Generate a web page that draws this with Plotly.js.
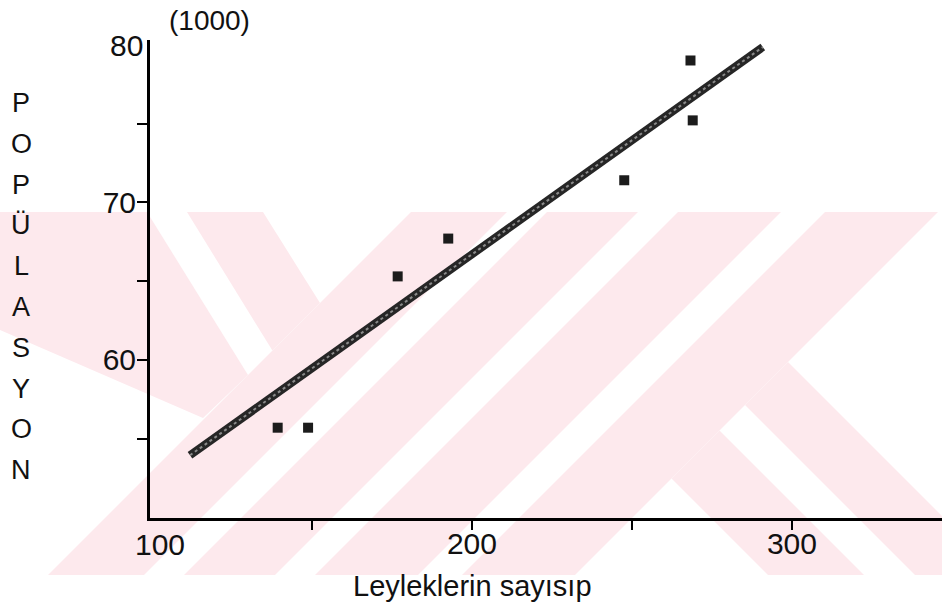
<!DOCTYPE html>
<html>
<head>
<meta charset="utf-8">
<script src="https://cdn.plot.ly/plotly-3.0.1.min.js"></script>
<style>html,body{margin:0;padding:0;background:#fff;}#chart{width:942px;height:615px;}</style>
</head>
<body>
<div id="chart"></div>
<script>
// ---- data ----
const storkCount = [139.3, 148.8, 176.8, 192.6, 247.6, 268.3, 269.0];
const population = [55.7, 55.7, 65.3, 67.7, 71.4, 79.0, 75.2];
const fitLineX = [111.9, 290.9];
const fitLineY = [53.95, 79.85];
const xTickVals = [150, 200, 250, 300];
const xTickText = ['', '200', '', '300'];
const yTickVals = [55, 60, 65, 70, 75];
const yTickText = ['', '60', '', '70', ''];
const yTitleLetters = ['P', 'O', 'P', 'Ü', 'L', 'A', 'S', 'Y', 'O', 'N'];
const xTitle = 'Leyleklerin sayısıp';
const unitLabel = '(1000)';

// ---- page geometry ----
const W = 942, H = 615;
const M = {l: 150, r: 0, t: 40, b: 97};
const PW = W - M.l - M.r, PH = H - M.t - M.b;
const px = x => (x - M.l) / PW;
const py = y => (H - M.b - y) / PH;

const FONT = 'Liberation Sans Narrow, Arial Narrow, Liberation Sans, Arial, sans-serif';

// background watermark (pink diagonal stripes), in page pixels
const WM_T = 212, WM_B = 575;
const watermark = [
  [[825, WM_T], [938, WM_T], [575, WM_B], [462, WM_B]],
  [[788, 362], [942, 516], [942, WM_B], [915, WM_B], [745, 405]],
  [[719.5, 430.5], [864, WM_B], [768, WM_B], [671.5, 478.5]],
  [[678, WM_T], [781, WM_T], [418, WM_B], [315, WM_B]],
  [[547, WM_T], [638, WM_T], [275, WM_B], [184, WM_B]],
  [[411, WM_T], [507, WM_T], [144, WM_B], [48, WM_B]],
  [[187, WM_T], [263, WM_T], [320, 303], [272.4, 350.6]],
  [[0, WM_T], [147, WM_T], [248, 375], [203, 418], [0, 330]]
];
const shapes = watermark.map(poly => ({
  type: 'path', xref: 'paper', yref: 'paper', layer: 'below',
  path: 'M' + poly.map(p => px(p[0]).toFixed(5) + ',' + py(p[1]).toFixed(5)).join('L') + 'Z',
  fillcolor: '#fde9ed', line: {width: 0}
}));

const annotations = [];
yTitleLetters.forEach((ch, i) => {
  annotations.push({xref: 'paper', yref: 'paper', x: px(21), y: py(103 + i * 40.8),
    text: ch, showarrow: false, xanchor: 'center', yanchor: 'middle',
    font: {family: FONT, size: 27, color: '#111'}});
});
annotations.push({xref: 'paper', yref: 'paper', x: px(209), y: py(21), text: unitLabel,
  showarrow: false, xanchor: 'center', yanchor: 'middle', font: {family: FONT, size: 28, color: '#111'}});
annotations.push({xref: 'paper', yref: 'paper', x: px(126), y: py(45), text: '80',
  showarrow: false, xanchor: 'center', yanchor: 'middle', font: {family: FONT, size: 30, color: '#111'}});
annotations.push({xref: 'paper', yref: 'paper', x: px(160), y: py(544), text: '100',
  showarrow: false, xanchor: 'center', yanchor: 'middle', font: {family: FONT, size: 30, color: '#111'}});
annotations.push({xref: 'paper', yref: 'paper', x: px(472), y: py(586), text: xTitle,
  showarrow: false, xanchor: 'center', yanchor: 'middle', font: {family: FONT, size: 29, color: '#111'}});

const traces = [
  {x: fitLineX, y: fitLineY, type: 'scatter', mode: 'lines',
   line: {color: '#262626', width: 8}, hoverinfo: 'skip'},
  {x: fitLineX, y: fitLineY, type: 'scatter', mode: 'lines',
   line: {color: '#8a8a8a', width: 2, dash: 'dot'}, hoverinfo: 'skip'},
  {x: storkCount, y: population, type: 'scatter', mode: 'markers',
   marker: {symbol: 'square', size: 10, color: '#1c1c1c', line: {width: 0}}}
];

const layout = {
  width: W, height: H,
  margin: M,
  paper_bgcolor: '#ffffff', plot_bgcolor: 'rgba(0,0,0,0)',
  showlegend: false,
  shapes: shapes,
  annotations: annotations,
  xaxis: {
    range: [99.4, 346.9], showgrid: false, zeroline: false,
    showline: true, linecolor: '#000', linewidth: 3,
    tickmode: 'array', tickvals: xTickVals, ticktext: xTickText,
    ticks: 'outside', ticklen: 9, tickwidth: 2, tickcolor: '#000',
    ticklabelstandoff: -12,
    tickfont: {family: FONT, size: 30, color: '#111'}
  },
  yaxis: {
    range: [49.97, 80.3], showgrid: false, zeroline: false,
    showline: true, linecolor: '#000', linewidth: 3,
    tickmode: 'array', tickvals: yTickVals, ticktext: yTickText,
    ticks: 'outside', ticklen: 10, tickwidth: 2, tickcolor: '#000',
    ticklabelstandoff: -5,
    tickfont: {family: FONT, size: 30, color: '#111'}
  }
};

Plotly.newPlot('chart', traces, layout, {staticPlot: true, displayModeBar: false});
</script>
</body>
</html>
